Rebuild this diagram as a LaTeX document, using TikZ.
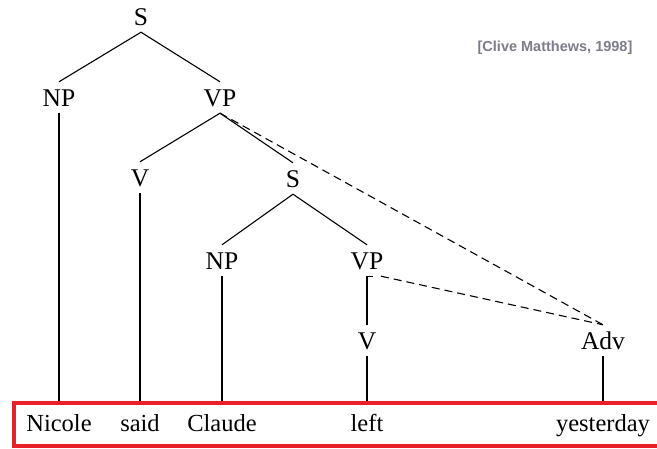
\documentclass[tikz,border=0pt]{standalone}
\usepackage{fontspec}
\setmainfont{Liberation Serif}
\newfontfamily\citefont{Liberation Sans}
\usetikzlibrary{positioning}
\definecolor{boxred}{HTML}{E8202A}
\definecolor{citegray}{HTML}{7C7C8A}

\begin{document}
\begin{tikzpicture}[
  x=1pt,y=-1pt,
  cat/.style={anchor=base,inner sep=0pt,text height=25pt,text depth=6pt,
    font=\fontsize{25.5}{30}\selectfont},
  word/.style={anchor=base,inner sep=0pt,text height=30pt,text depth=6pt,
    font=\fontsize{24.5}{29}\selectfont},
  branch/.style={line width=1.1pt,black},
  moved/.style={line width=1.1pt,black,dash pattern=on 8pt off 5pt}
]
\clip (0,0) rectangle (657,449);
% tree labels
\node[cat] (s) at (141,26) {S};
\node[cat] (np) at (59,107) {NP};
\node[cat] (vp) at (220,107) {VP};
\node[cat] (v) at (140,187) {V};
\node[cat] (sub) at (293,188) {S};
\node[cat] (subnp) at (222,270) {NP};
\node[cat] (subvp) at (367,270) {VP};
\node[cat] (subv) at (367,350) {V};
\node[cat] (adv) at (603,350) {Adv};
% words
\node[word] (nicole) at (59,432) {Nicole};
\node[word] (said) at (140,432) {said};
\node[word] (claude) at (222,432) {Claude};
\node[word] (left) at (367,432) {left};
\node[word] (yesterday) at (603,432) {yesterday};
\node[font=\citefont\bfseries\fontsize{14.5}{17}\selectfont,text=citegray]
  (cite) at (555,48) {[Clive Matthews, 1998]};
% branches
\draw[branch] (np.north) -- (s.south) -- (vp.north);
\draw[branch] (v.north) -- (vp.south) -- (sub.north);
\draw[branch] (subnp.north) -- (sub.south) -- (subvp.north);
\draw[branch] (np.south) -- (nicole.north);
\draw[branch] (v.south) -- (said.north);
\draw[branch] (subnp.south) -- (claude.north);
\draw[branch] (subv.north) -- (subvp.south) -- ++(6,0);
\draw[branch] (subv.south) -- (left.north);
\draw[branch] (adv.south) -- (yesterday.north);
\draw[moved] (vp.south) -- (adv.north);
\draw[moved] ([xshift=14pt]subvp.south) -- (adv.north);
% box round the words
\draw[boxred,line width=3.5pt] (14,403) rectangle (690,446);
\end{tikzpicture}
\end{document}
